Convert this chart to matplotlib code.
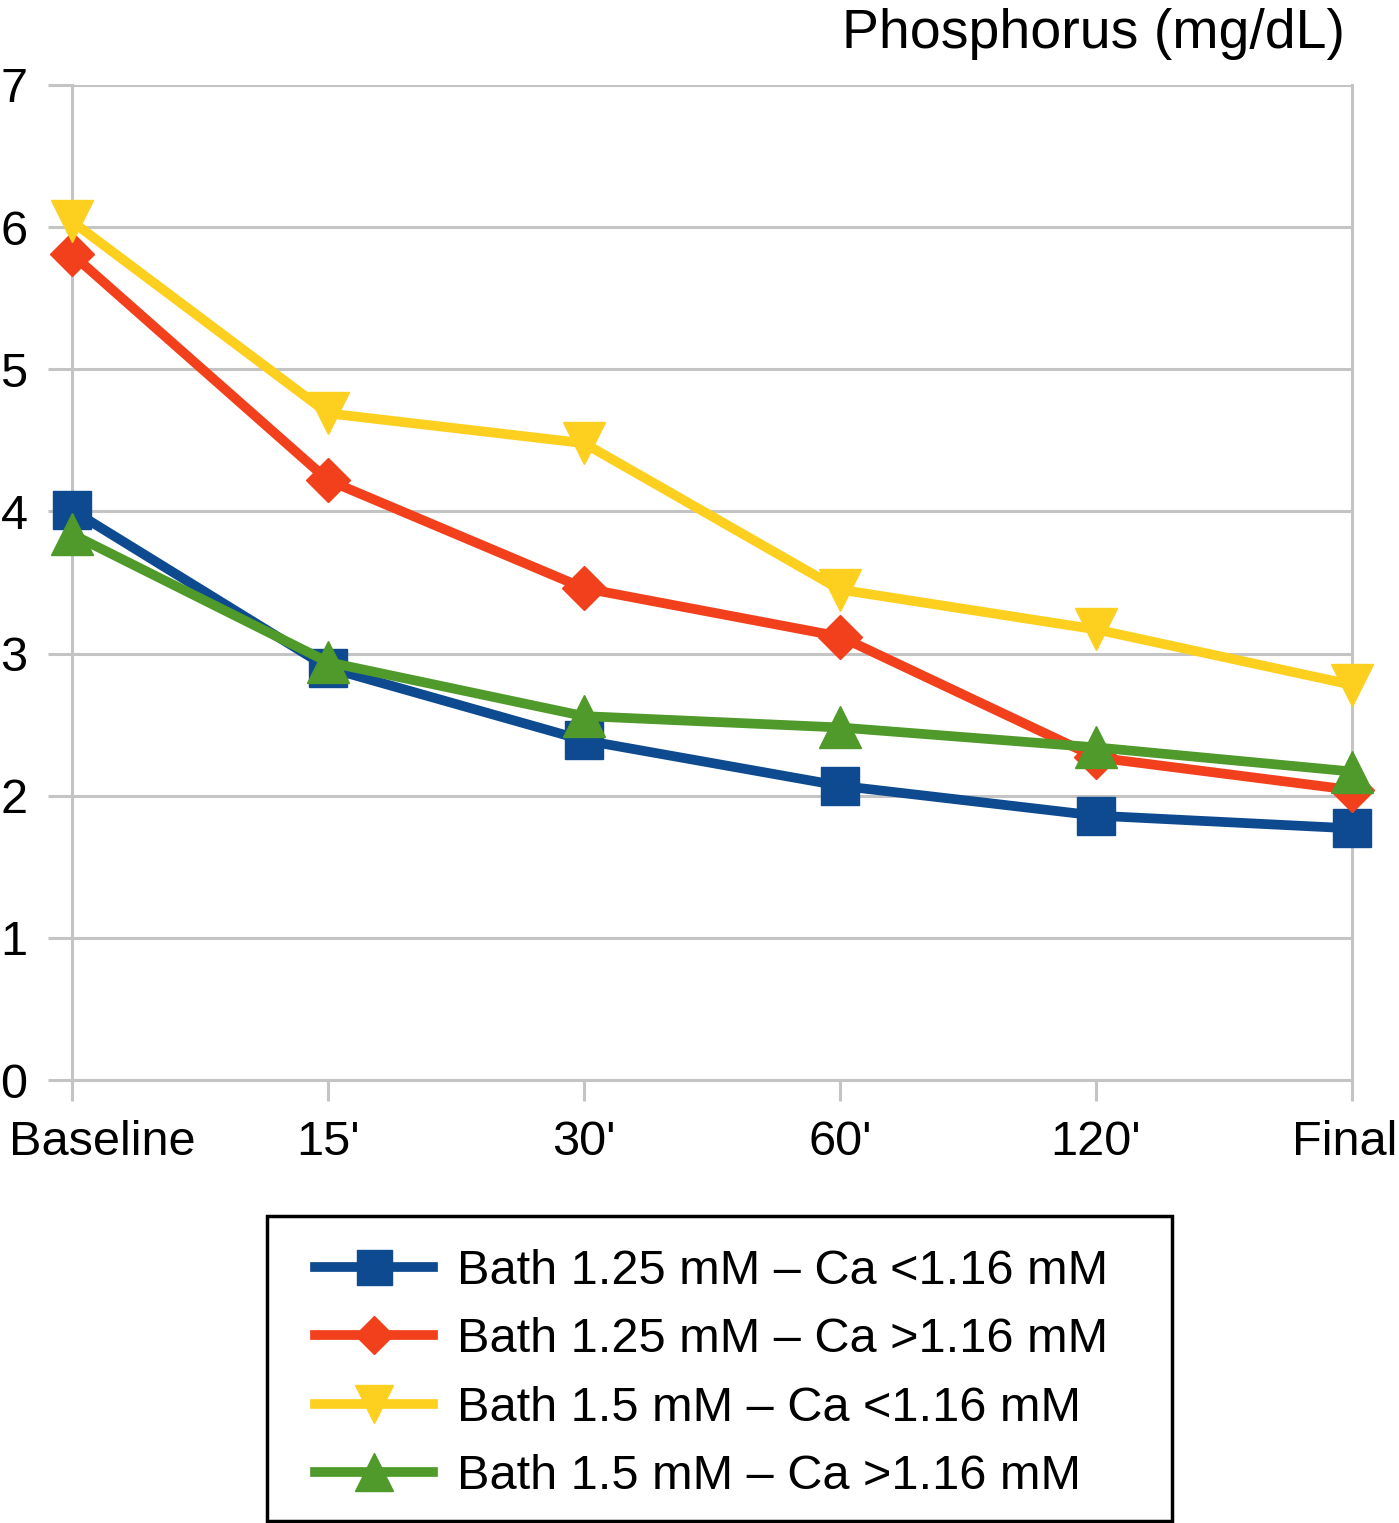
import numpy as np
import matplotlib
matplotlib.use("Agg")
from matplotlib import pyplot as plt
from matplotlib.patches import Rectangle
from matplotlib.transforms import ScaledTranslation

# dados
categorias = ["Baseline", "15'", "30'", "60'", "120'", "Final"]
bath125_ca_baixo = [4.01, 2.90, 2.39, 2.07, 1.86, 1.77]
bath125_ca_alto = [5.81, 4.22, 3.46, 3.12, 2.27, 2.04]
bath15_ca_baixo = [6.04, 4.69, 4.48, 3.45, 3.17, 2.78]
bath15_ca_alto = [3.84, 2.94, 2.56, 2.48, 2.34, 2.17]

rotulos = ["Bath 1.25 mM \u2013 Ca <1.16 mM",
           "Bath 1.25 mM \u2013 Ca >1.16 mM",
           "Bath 1.5 mM \u2013 Ca <1.16 mM",
           "Bath 1.5 mM \u2013 Ca >1.16 mM"]

plt.rcParams['font.family'] = ['Liberation Sans', 'DejaVu Sans']

W, H = 1399, 1523
fig = plt.figure(figsize=(W/100, H/100), dpi=100)
ax = fig.add_axes([72/W, 443/H, 1280/W, 995/H])

x = np.arange(len(categorias))
cinza = "#c4c4c4"

series = [
    (bath125_ca_baixo, "#0d4a8f", "s", 28),
    (bath125_ca_alto, "#f23f1c", "D", 22),
    (bath15_ca_baixo, "#fdd020", "v", 30),
    (bath15_ca_alto, "#4f9a2a", "^", 30),
]
linhas = []
for (vals, cor, marc, ms), rot in zip(series, rotulos):
    l, = ax.plot(x, vals, color=cor, lw=7, marker=marc, ms=ms, label=rot,
                 clip_on=False, zorder=3)
    linhas.append(l)

ax.set_xlim(0, 5)
ax.set_ylim(0, 7)
ax.set_yticks(range(0, 8))
ax.set_xticks(x)
ax.set_xticklabels(categorias)
ax.grid(axis='y', color=cinza, lw=2.2)
ax.set_axisbelow(True)

ax.spines['top'].set_visible(False)
for lado in ['left', 'right', 'bottom']:
    ax.spines[lado].set_color(cinza)
    ax.spines[lado].set_linewidth(2.2)

ax.tick_params(axis='y', length=17, width=2.2, color=cinza, pad=15, labelsize=35)
ax.tick_params(axis='x', length=15, width=2.2, color=cinza, pad=14, labelsize=35)

# desloca "Baseline" e "Final" para dentro da figura
primeiro = ax.get_xticklabels()[0]
primeiro.set_transform(primeiro.get_transform() + ScaledTranslation(0.30, 0, fig.dpi_scale_trans))
ultimo = ax.get_xticklabels()[-1]
ultimo.set_transform(ultimo.get_transform() + ScaledTranslation(-0.07, 0, fig.dpi_scale_trans))

fig.text(1345/W, 1 - 48/H, "Phosphorus (mg/dL)", ha='right', va='baseline', fontsize=40)

# legenda sem moldura + caixa desenhada à parte
leg = fig.legend(handles=linhas, loc='upper left', bbox_to_anchor=(315/W, 1 - 1249/H),
                 fontsize=35, frameon=False, handlelength=2.43, borderpad=0,
                 labelspacing=0.48, handletextpad=0.5, borderaxespad=0, markerscale=0.9)
fig.patches.append(Rectangle((267/W, 1 - 1521/H), 905/W, 305/H, transform=fig.transFigure,
                             fill=False, edgecolor='black', lw=2.5))

fig.savefig("out.png", dpi=100)
